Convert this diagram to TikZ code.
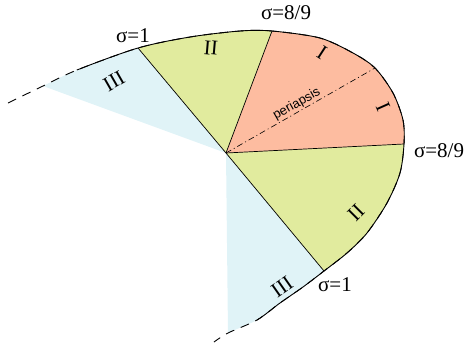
\documentclass[tikz,border=0pt]{standalone}
\usepackage{fontspec}
\setmainfont{Liberation Serif}
\setsansfont{Liberation Sans}
\usetikzlibrary{calc}
\definecolor{regionI}{RGB}{253,188,160}
\definecolor{regionII}{RGB}{225,235,158}
\definecolor{regionIII}{RGB}{224,243,247}
\tikzset{
  sigmalabel/.style = {font=\fontsize{21}{25}\selectfont, inner sep=0pt},
  regionlabel/.style = {font=\fontsize{21}{25}\selectfont, inner sep=0pt},
  border/.style = {line width=0.7pt},
  orbitline/.style = {line width=0.9pt},
  apsis/.style = {line width=0.6pt, dash pattern=on 6pt off 3pt on 1pt off 3pt}
}

\begin{document}
\begin{tikzpicture}[x=1pt,y=1pt]
\useasboundingbox (-226,-193) rectangle (244,153);

% focus and sector ends
\coordinate (F) at (0,0);
\coordinate (S3u) at (-183,67);
\coordinate (S1u) at (-88,105);
\coordinate (S8u) at (46,122);
\coordinate (Peri) at (149,85);
\coordinate (S8r) at (178,9);
\coordinate (S1l) at (98,-118);
\coordinate (S3l) at (2,-180);
\coordinate (SolidA) at (-149,83);
\coordinate (SolidB) at (31,-167);

% orbit through measured points, focus at origin
\path[save path=\orbit] plot[smooth,tension=0.5] coordinates {
  (-218,50) (-183,67) (-149,83) (-88,105) (-36,116) (14,122) (46,122)
  (94,115) (127,100) (149,85) (167,60) (177,33) (178,9) (174,-20)
  (161,-50) (141,-80) (121,-100) (98,-118) (77,-134) (54,-150)
  (31,-167) (2,-180) (-12,-189)};
\path[save path=\orbitregion] (F) -- plot[smooth,tension=0.5] coordinates {
  (-218,50) (-183,67) (-149,83) (-88,105) (-36,116) (14,122) (46,122)
  (94,115) (127,100) (149,85) (167,60) (177,33) (178,9) (174,-20)
  (161,-50) (141,-80) (121,-100) (98,-118) (77,-134) (54,-150)
  (31,-167) (2,-180) (-12,-189)} -- cycle;

% fill the orbit region inside a wedge
\newcommand{\fillsector}[2]{%
  \begin{scope}
    \clip #2;
    \fill[#1, use path=\orbitregion];
  \end{scope}%
}

% sectors
\fillsector{regionIII}{(F) -- ($(F)!3!(S3u)$) -- (-600,600) -- (600,600) -- (600,-600) -- ($(F)!3!(S3l)$) -- cycle}
\fillsector{regionII}{(F) -- ($(F)!3!(S1u)$) -- (600,600) -- (600,-600) -- ($(F)!3!(S1l)$) -- cycle}
\fillsector{regionI}{(F) -- ($(F)!3!(S8u)$) -- ($(F)!3!(S8r)$) -- cycle}

% sector borders
\draw[border] (F) -- (S1u);
\draw[border] (F) -- (S8u);
\draw[border] (F) -- (S8r);
\draw[border] (F) -- (S1l);

% periapsis line
\draw[apsis] (F) -- node[sloped,above,inner sep=1pt,font=\sffamily\fontsize{13}{15}\selectfont] {periapsis} (Peri);

% orbit: dashed ends, solid middle
\draw[orbitline, dash pattern=on 9pt off 7pt, use path=\orbit];
\begin{scope}
  \clip (F) -- ($(F)!3!(SolidA)$) -- (-400,600) -- (600,600) -- (600,-600) -- ($(F)!3!(SolidB)$) -- cycle;
  \draw[orbitline, use path=\orbit];
\end{scope}

% sigma labels
\node[sigmalabel] (s1u) at (-93,117) {σ=1};
\node[sigmalabel] (s8u) at (60,140) {σ=8/9};
\node[sigmalabel] (s8r) at (213,2) {σ=8/9};
\node[sigmalabel] (s1l) at (109,-132) {σ=1};

% region labels
\node[regionlabel,rotate=30] (r3u) at (-112,72) {III};
\node[regionlabel,rotate=-5] (r2u) at (-15,105) {II};
\node[regionlabel,rotate=-33] (r1u) at (96,100) {I};
\node[regionlabel,rotate=-66] (r1r) at (157,46) {I};
\node[regionlabel,rotate=45] (r2l) at (130,-60) {II};
\node[regionlabel,rotate=35] (r3l) at (56,-134) {III};
\end{tikzpicture}
\end{document}
